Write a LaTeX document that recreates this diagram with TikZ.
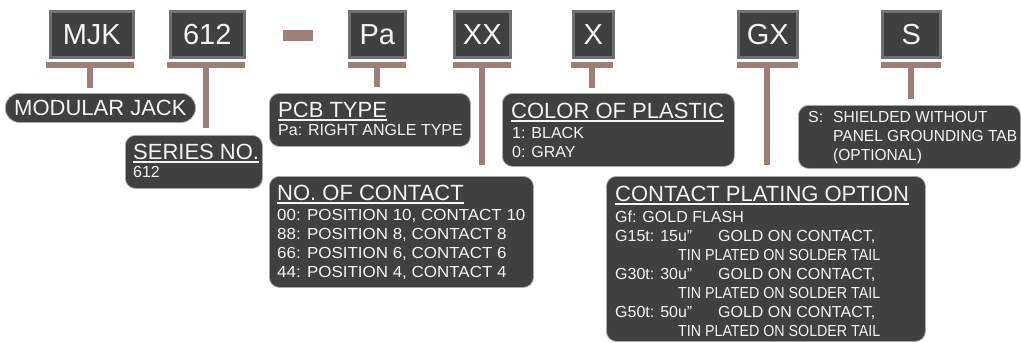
\documentclass[tikz,border=0pt]{standalone}
\usepackage{fontspec}
\setmainfont{Liberation Sans}
\usetikzlibrary{calc}
\definecolor{boxfill}{HTML}{404040}
\definecolor{boxedge}{HTML}{707070}
\definecolor{descedge}{HTML}{A8A8A8}
\definecolor{conn}{RGB}{158,127,120}
\definecolor{txt}{HTML}{F4F4F4}
\begin{document}
\begin{tikzpicture}[x=1pt,y=-1pt,
  codebox/.style={fill=boxfill,draw=boxedge,line width=2.5pt,text=txt,
    font=\fontsize{29}{29}\selectfont,inner sep=0pt,anchor=north west},
  barbox/.style={fill=conn,draw=none,inner sep=0pt,minimum height=6pt},
  stem/.style={draw=conn,line width=6pt},
  descbox/.style={fill=boxfill,draw=descedge,line width=0.8pt,rounded corners=10pt,
    inner sep=0pt,anchor=north west},
  hdr/.style={anchor=base west,inner sep=0pt,text=txt,font=\fontsize{22}{22}\selectfont},
  body/.style={anchor=base west,inner sep=0pt,text=txt,font=\fontsize{16}{16}\selectfont},
  uline/.style={draw=txt,line width=1.8pt}]
\useasboundingbox (0,0) rectangle (1021,343);

% top code boxes
\node[codebox,minimum width=83pt,minimum height=46pt] (mjk) at (49,10) {MJK};
\node[codebox,minimum width=74pt,minimum height=46pt] (s612) at (169,10) {612};
\node[fill=conn,draw=none,inner sep=0pt,minimum width=30pt,minimum height=11pt] (dash) at (298,35.5) {};
\node[codebox,minimum width=56pt,minimum height=46pt] (pa) at (348,10) {Pa};
\node[codebox,minimum width=56pt,minimum height=46pt] (xx) at (453,10) {XX};
\node[codebox,minimum width=40pt,minimum height=46pt] (x) at (572,10) {X};
\node[codebox,minimum width=59pt,minimum height=46pt] (gx) at (737,10) {GX};
\node[codebox,minimum width=58pt,minimum height=46pt] (s) at (881,10) {S};

% bars
\node[barbox,minimum width=88pt] (bmjk) at (90,65) {};
\node[barbox,minimum width=78pt] (b612) at (206,65) {};
\node[barbox,minimum width=58pt] (bpa) at (376.5,65) {};
\node[barbox,minimum width=58pt] (bxx) at (481.5,65) {};
\node[barbox,minimum width=42pt] (bx) at (592,65) {};
\node[barbox,minimum width=61pt] (bgx) at (767,65) {};
\node[barbox,minimum width=60pt] (bs) at (911,65) {};

% description boxes
\node[descbox,minimum width=190pt,minimum height=29pt,rounded corners=14pt,
  text=txt,font=\fontsize{22}{22}\selectfont] (mj) at (5,93) {MODULAR JACK};
\node[descbox,minimum width=137pt,minimum height=53pt] (ser) at (125,135) {};
\node[descbox,minimum width=201pt,minimum height=53pt] (pcb) at (269,93) {};
\node[descbox,minimum width=264pt,minimum height=111pt] (noc) at (269,176) {};
\node[descbox,minimum width=232pt,minimum height=73pt] (col) at (502,93) {};
\node[descbox,minimum width=319pt,minimum height=165pt] (cpo) at (606,176) {};
\node[descbox,minimum width=222pt,minimum height=63pt] (shd) at (798,105) {};

% stems
\draw[stem,shorten >=5pt] (bmjk.south) -- (bmjk.south |- mj.north);
\draw[stem,shorten >=7pt] (b612.south) -- (b612.south |- ser.north);
\draw[stem,shorten >=6pt] (bpa.south) -- (bpa.south |- pcb.north);
\draw[stem,shorten >=11pt] (bxx.south) -- (bxx.south |- noc.north);
\draw[stem,shorten >=5pt] (bx.south) -- (bx.south |- col.north);
\draw[stem,shorten >=11pt] (bgx.south) -- (bgx.south |- cpo.north);
\draw[stem,shorten >=6pt] (bs.south) -- (bs.south |- shd.north);

% SERIES NO.
\node[hdr] (h1) at (133,159) {SERIES NO.};
\draw[uline] ([yshift=-3pt]h1.base west) -- ([yshift=-3pt]h1.base east);
\node[body] (t11) at (133,177.7) {612};

% PCB TYPE
\node[hdr] (h2) at (278,117) {PCB TYPE};
\draw[uline] ([yshift=-3pt]h2.base west) -- ([yshift=-3pt]h2.base east);
\node[body] (t21) at (278,135.7) {Pa: RIGHT ANGLE TYPE};

% NO. OF CONTACT
\node[hdr] (h3) at (277,200) {NO. OF CONTACT};
\draw[uline] ([yshift=-3pt]h3.base west) -- ([yshift=-3pt]h3.base east);
\node[body] (t31) at (277,220.7) {\scalebox{1.06}[1]{00: POSITION 10, CONTACT 10}};
\node[body] (t32) at (277,239.7) {\scalebox{1.06}[1]{88: POSITION 8, CONTACT 8}};
\node[body] (t33) at (277,258.7) {\scalebox{1.06}[1]{66: POSITION 6, CONTACT 6}};
\node[body] (t34) at (277,277.7) {\scalebox{1.06}[1]{44: POSITION 4, CONTACT 4}};

% COLOR OF PLASTIC
\node[hdr] (h4) at (511,118) {COLOR OF PLASTIC};
\draw[uline] ([yshift=-3pt]h4.base west) -- ([yshift=-3pt]h4.base east);
\node[body] (t41) at (512,138.7) {1: BLACK};
\node[body] (t42) at (512,157.7) {0: GRAY};

% CONTACT PLATING OPTION
\node[hdr] (h5) at (615,201) {CONTACT PLATING OPTION};
\draw[uline] ([yshift=-3pt]h5.base west) -- ([yshift=-3pt]h5.base east);
\node[body] (t51) at (615,222.7) {Gf: GOLD FLASH};
\node[body] (t52) at (615,241.7) {G15t: 15u”};
\node[body] (t52b) at (718,241.7) {GOLD ON CONTACT,};
\node[body] (t53) at (678,260.7) {\scalebox{0.89}[1]{TIN PLATED ON SOLDER TAIL}};
\node[body] (t54) at (615,279.7) {G30t: 30u”};
\node[body] (t54b) at (718,279.7) {GOLD ON CONTACT,};
\node[body] (t55) at (678,298.7) {\scalebox{0.89}[1]{TIN PLATED ON SOLDER TAIL}};
\node[body] (t56) at (615,317.7) {G50t: 50u”};
\node[body] (t56b) at (718,317.7) {GOLD ON CONTACT,};
\node[body] (t57) at (678,336.7) {\scalebox{0.89}[1]{TIN PLATED ON SOLDER TAIL}};

% SHIELDED
\node[body] (t61) at (808,122.7) {S:};
\node[body] (t61b) at (833,122.7) {\scalebox{0.97}[1]{SHIELDED WITHOUT}};
\node[body] (t62) at (833,141.7) {\scalebox{0.97}[1]{PANEL GROUNDING TAB}};
\node[body] (t63) at (833,160.7) {\scalebox{0.97}[1]{(OPTIONAL)}};
\end{tikzpicture}
\end{document}
